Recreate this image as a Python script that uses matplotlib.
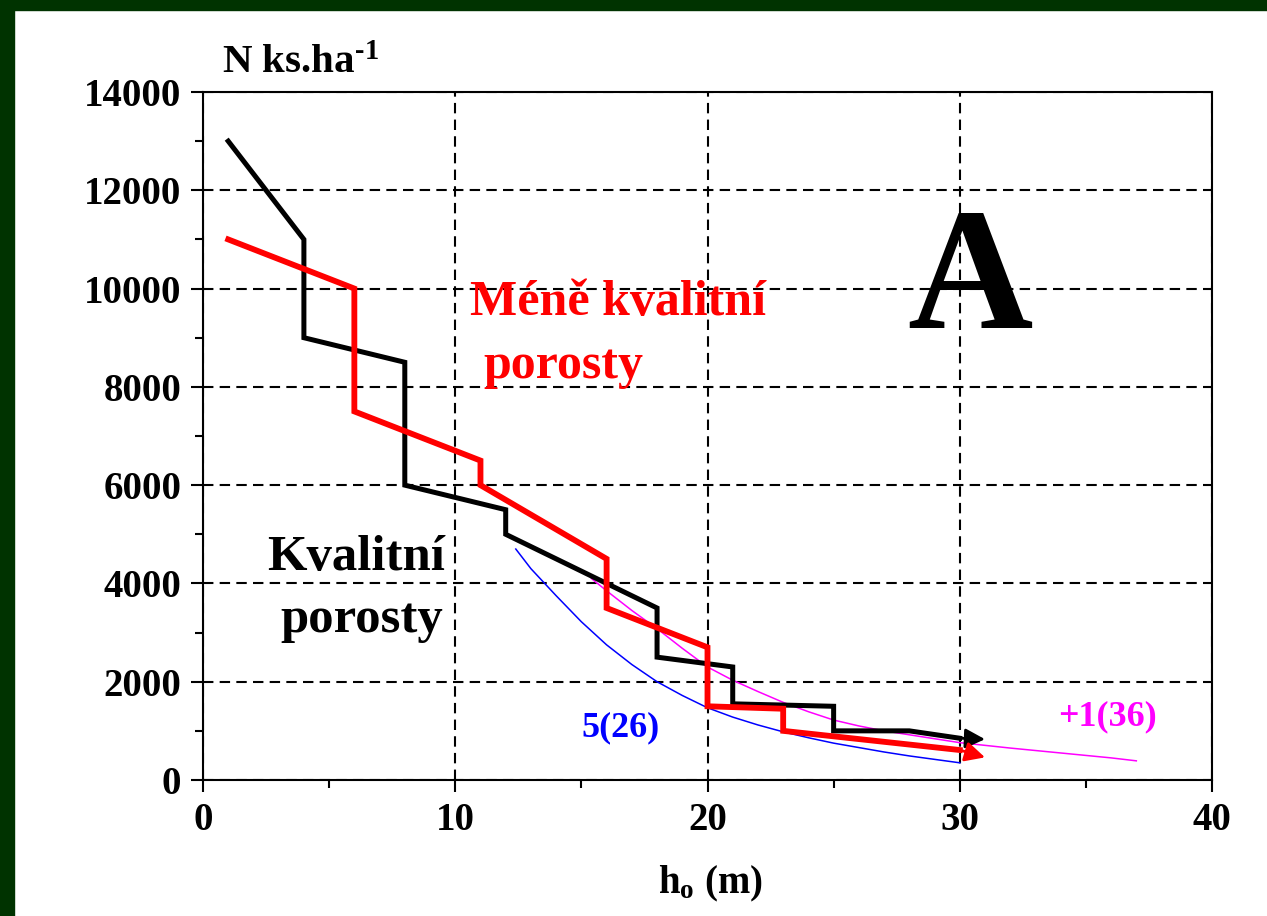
import matplotlib.pyplot as plt
from matplotlib.patches import Rectangle
from matplotlib.ticker import MultipleLocator

plt.rcParams['font.family'] = ['Liberation Serif', 'DejaVu Serif']
plt.rcParams['font.weight'] = 'bold'
plt.rcParams['mathtext.fontset'] = 'custom'
plt.rcParams['mathtext.rm'] = 'Liberation Serif:bold'
plt.rcParams['mathtext.it'] = 'Liberation Serif:bold'
plt.rcParams['mathtext.bf'] = 'Liberation Serif:bold'

# kvalitni porosty (black step line)
black_x = [1, 4, 4, 8, 8, 12, 12, 18, 18, 21, 21, 25, 25, 28, 30]
black_y = [13000, 11000, 9000, 8500, 6000, 5500, 5000, 3500, 2500, 2300, 1550, 1500, 1000, 1000, 850]
black_tip = (31, 830)

# mene kvalitni porosty (red step line)
red_x = [1, 6, 6, 11, 11, 16, 16, 20, 20, 23, 23, 30]
red_y = [11000, 10000, 7500, 6500, 6000, 4500, 3500, 2700, 1500, 1450, 1000, 610]
red_tip = (31, 460)

# thin curves 5(26) and +1(36)
blue_x = [12.4, 13, 14, 15, 16, 17, 18, 19, 20, 21, 22, 23, 24, 25, 26, 27, 28, 29, 30]
blue_y = [4700, 4300, 3750, 3220, 2750, 2350, 2000, 1720, 1470, 1280, 1120, 980, 860, 750, 660, 570, 490, 420, 350]
mag_x = [15.4, 16, 17, 18, 19, 20, 21, 22, 23, 24, 25, 26, 27, 28, 29, 30, 32, 34, 36, 37]
mag_y = [4100, 3850, 3450, 3080, 2680, 2300, 2030, 1800, 1580, 1390, 1220, 1100, 1000, 920, 840, 760, 650, 550, 450, 390]

fig = plt.figure(figsize=(12.67, 9.16), dpi=100)
# dark green frame on top and left
fig.patches.append(Rectangle((0, 1 - 10/916), 1, 10/916, transform=fig.transFigure, color='#003300', zorder=0))
fig.patches.append(Rectangle((0, 0), 14/1267, 1, transform=fig.transFigure, color='#003300', zorder=0))

ax = fig.add_axes([203/1267, 1 - 780/916, (1212-203)/1267, (780-92)/916])
ax.set_xlim(0, 40)
ax.set_ylim(0, 14000)
ax.xaxis.set_major_locator(MultipleLocator(10))
ax.xaxis.set_minor_locator(MultipleLocator(5))
ax.yaxis.set_major_locator(MultipleLocator(2000))
ax.yaxis.set_minor_locator(MultipleLocator(1000))
ax.tick_params(which='major', direction='out', length=8.6, width=1.5, labelsize=28, pad=7)
ax.tick_params(which='minor', direction='out', length=5.8, width=1.5)
for s in ax.spines.values():
    s.set_linewidth(1.5)
ax.grid(True, which='major', color='black', lw=1.5, ls=(0, (5, 3)))
ax.set_axisbelow(True)

ax.plot(blue_x, blue_y, color='blue', lw=1.1, zorder=3)
ax.plot(mag_x, mag_y, color='magenta', lw=1.1, zorder=3)
ax.plot(black_x, black_y, color='black', lw=3.6, solid_joinstyle='miter', zorder=4)
ax.plot(red_x, red_y, color='red', lw=4.2, solid_joinstyle='miter', zorder=5)

# arrow heads at the ends
ax.annotate('', xy=black_tip, xytext=(black_x[-1], black_y[-1]),
            arrowprops=dict(arrowstyle='-|>', color='black', lw=2, mutation_scale=30, shrinkA=0, shrinkB=0), zorder=4)
ax.annotate('', xy=red_tip, xytext=(red_x[-1], red_y[-1]),
            arrowprops=dict(arrowstyle='-|>', color='red', lw=2, mutation_scale=30, shrinkA=0, shrinkB=0), zorder=5)

ax.text(10.6, 9463, 'Méně kvalitní', color='red', fontsize=36, va='baseline', ha='left')
ax.text(11.1, 8180, 'porosty', color='red', fontsize=36, va='baseline', ha='left')
ax.text(9.6, 4273, 'Kvalitní', color='black', fontsize=36.5, va='baseline', ha='right')
ax.text(9.5, 3018, 'porosty', color='black', fontsize=36.5, va='baseline', ha='right')
ax.text(30.4, 9200, 'A', color='black', fontsize=125, va='baseline', ha='center')
ax.text(15.0, 880, '5(26)', color='blue', fontsize=26, va='baseline', ha='left')
ax.text(33.9, 1120, '+1(36)', color='magenta', fontsize=26, va='baseline', ha='left')

ax.text(0.75, 14390, r'N ks.ha$^{\text{-1}}$', fontsize=29.5, va='baseline', ha='left', clip_on=False)
fig.text(710/1267, 1 - 893/916, r'h$_{\mathregular{o}}$ (m)', fontsize=28, va='baseline', ha='center')

fig.savefig('out.png', dpi=100)
